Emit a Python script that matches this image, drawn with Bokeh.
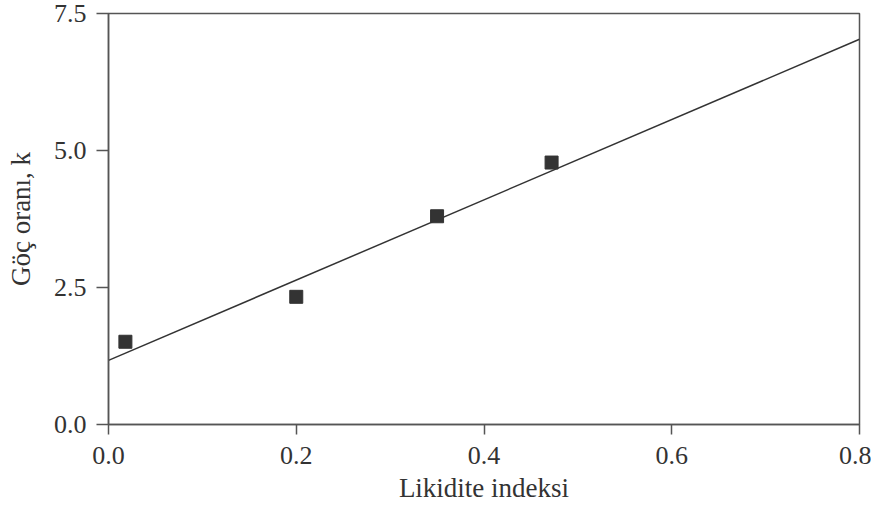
from bokeh.plotting import figure
from bokeh.models import FixedTicker, NumeralTickFormatter, Range1d
from bokeh.embed import file_html
from bokeh.resources import INLINE

# Data
liquidity_index = [0.018, 0.20, 0.35, 0.472]
migration_rate = [1.51, 2.33, 3.80, 4.78]
fit_x = [0.0, 0.8]
fit_y = [1.17, 7.03]
x_ticks = [0.0, 0.2, 0.4, 0.6, 0.8]
y_ticks = [0.0, 2.5, 5.0, 7.5]
x_label = "Likidite indeksi"
y_label = "Göç oranı, k"

FONT = "Liberation Serif"
AX = "#555555"
INK = "#333333"

p = figure(width=871, height=510, output_backend="svg", toolbar_location=None,
           x_range=Range1d(0, 0.8), y_range=Range1d(0, 7.5),
           min_border_left=108, min_border_right=12, min_border_top=13,
           min_border_bottom=86, background_fill_color="white",
           border_fill_color="white")

p.line(fit_x, fit_y, line_color=INK, line_width=1.5)
p.scatter(liquidity_index, migration_rate, marker="square", size=13,
          fill_color=INK, line_color=INK)

p.xgrid.visible = False
p.ygrid.visible = False
p.outline_line_color = AX
p.outline_line_width = 1.5
p.outline_line_alpha = 1.0

p.xaxis.ticker = FixedTicker(ticks=x_ticks)
p.yaxis.ticker = FixedTicker(ticks=y_ticks)
p.xaxis.formatter = NumeralTickFormatter(format="0.0")
p.yaxis.formatter = NumeralTickFormatter(format="0.0")
p.xaxis.axis_label = x_label
p.yaxis.axis_label = y_label

for ax in (p.xaxis, p.yaxis):
    ax.axis_line_color = AX
    ax.axis_line_width = 1.5
    ax.major_tick_line_color = AX
    ax.major_tick_line_width = 1.5
    ax.major_tick_in = 0
    ax.minor_tick_line_color = None
    ax.major_label_text_font = FONT
    ax.major_label_text_font_size = "26px"
    ax.major_label_text_color = INK
    ax.axis_label_text_font = FONT
    ax.axis_label_text_font_size = "27px"
    ax.axis_label_text_font_style = "normal"
    ax.axis_label_text_color = INK

p.xaxis.major_tick_out = 10
p.yaxis.major_tick_out = 12
p.xaxis.major_label_standoff = 12
p.yaxis.major_label_standoff = 10
p.xaxis.axis_label_standoff = 6
p.yaxis.axis_label_standoff = 15

open("out.html", "w").write(file_html(p, INLINE))
